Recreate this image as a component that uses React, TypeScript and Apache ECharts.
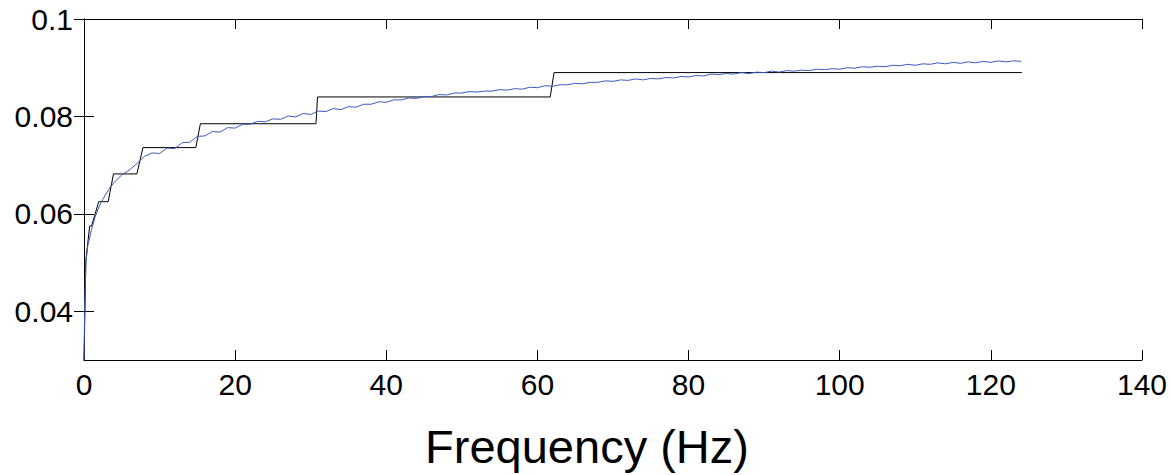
import React, { useEffect, useRef } from "react";
import * as echarts from "echarts";

// Black octave-band staircase: [Hz, value]
const stepHz = [0, 0.25, 0.75, 1.0, 1.95, 3.2, 3.9, 7.0, 7.8, 14.8, 15.4, 30.7, 30.9, 61.7, 62.2, 124.1];
const stepValues = [0.03, 0.0505, 0.0575, 0.0575, 0.0625, 0.0625, 0.0682, 0.0682, 0.0736, 0.0736, 0.0785, 0.0785, 0.084, 0.084, 0.089, 0.089];

// Blue measured curve
const blueHz = [
  0, 0.1, 0.25, 0.5, 1, 1.5, 2, 2.5, 3, 3.5, 4, 5, 6, 7,
  8, 9, 10, 11, 12, 13, 14, 15, 16, 17, 18, 19, 20, 21, 22, 23, 24, 25, 26, 27, 28, 29, 30,
  31, 32, 33, 34, 35, 36, 37, 38, 39, 40, 41, 42, 43, 44, 45, 46, 47, 48, 49, 50,
  51, 52, 53, 54, 55, 56, 57, 58, 59, 60, 61, 62, 63, 64, 65, 66, 67, 68, 69, 70,
  71, 72, 73, 74, 75, 76, 77, 78, 79, 80, 81, 82, 83, 84, 85, 86, 87, 88, 89, 90,
  91, 92, 93, 94, 95, 96, 97, 98, 99, 100, 101, 102, 103, 104, 105, 106, 107, 108, 109, 110,
  111, 112, 113, 114, 115, 116, 117, 118, 119, 120, 121, 122, 123, 124,
];
const blueValues = [
  0.03, 0.042, 0.05, 0.0535, 0.0568, 0.0595, 0.0615, 0.063, 0.0643, 0.0655, 0.0665, 0.068, 0.069, 0.0703,
  0.0718, 0.0725, 0.0724, 0.0735, 0.0734, 0.0746, 0.0747, 0.0759, 0.076, 0.0769, 0.0768, 0.0777, 0.0776, 0.0784, 0.0784, 0.079, 0.0789, 0.0795, 0.0794, 0.0801, 0.0799, 0.0806, 0.0804,
  0.0811, 0.081, 0.0816, 0.0814, 0.082, 0.0819, 0.0825, 0.0825, 0.083, 0.0829, 0.0834, 0.0834, 0.0838, 0.0837, 0.0841, 0.0841, 0.0845, 0.0844, 0.0848, 0.0848,
  0.0851, 0.085, 0.0852, 0.0852, 0.0855, 0.0854, 0.0857, 0.0856, 0.086, 0.0859, 0.0863, 0.0862, 0.0865, 0.0865, 0.0868, 0.0867, 0.087, 0.087, 0.0873, 0.0872,
  0.0875, 0.0874, 0.0877, 0.0875, 0.0878, 0.0877, 0.088, 0.0879, 0.0882, 0.0881, 0.0884, 0.0883, 0.0887, 0.0886, 0.0888, 0.0887, 0.089, 0.0888, 0.0891, 0.089,
  0.0893, 0.0891, 0.0894, 0.0893, 0.0895, 0.0894, 0.0897, 0.0896, 0.0898, 0.0897, 0.09, 0.0899, 0.0902, 0.0901, 0.0903, 0.0902, 0.0905, 0.0904, 0.0907, 0.0905,
  0.0908, 0.0907, 0.091, 0.0908, 0.0911, 0.0909, 0.0912, 0.091, 0.0913, 0.0911, 0.0914, 0.0912, 0.0914, 0.0913,
];

const xTicks = [0, 20, 40, 60, 80, 100, 120, 140];
const yTicks = [0.04, 0.06, 0.08, 0.1];
const xTitle = "Frequency (Hz)";

const FONT = "'Liberation Sans', Arial, Helvetica, sans-serif";

export default function App() {
  const ref = useRef<HTMLDivElement>(null);
  useEffect(() => {
    if (!ref.current) return;
    const chart = echarts.init(ref.current, null, { renderer: "svg" });
    const axisLine = { show: true, lineStyle: { color: "#000", width: 1 } };
    const tick = { show: true, inside: true, length: 10, lineStyle: { color: "#000", width: 1 } };
    chart.setOption({
      animation: false,
      backgroundColor: "#fff",
      grid: { left: 84, right: 28, top: 19, bottom: 115, containLabel: false },
      xAxis: [
        {
          type: "value",
          min: xTicks[0],
          max: xTicks[xTicks.length - 1],
          interval: 20,
          axisLine,
          axisTick: tick,
          splitLine: { show: false },
          axisLabel: { color: "#000", fontFamily: FONT, fontSize: 30, margin: 9 },
        },
        {
          type: "value",
          position: "top",
          min: xTicks[0],
          max: xTicks[xTicks.length - 1],
          interval: 20,
          axisLine,
          axisTick: tick,
          splitLine: { show: false },
          axisLabel: { show: false },
        },
      ],
      yAxis: [
        {
          type: "value",
          min: 0.03,
          max: 0.1,
          axisLine,
          axisTick: { ...tick, customValues: yTicks },
          splitLine: { show: false },
          axisLabel: { color: "#000", fontFamily: FONT, fontSize: 30, margin: 11, customValues: yTicks },
        },
        {
          type: "value",
          position: "right",
          min: 0.03,
          max: 0.1,
          axisLine,
          axisTick: { ...tick, customValues: yTicks },
          splitLine: { show: false },
          axisLabel: { show: false },
        },
      ],
      graphic: [
        {
          type: "text",
          x: 587,
          y: 446,
          style: {
            text: xTitle,
            fontFamily: FONT,
            fontSize: 47,
            fill: "#000",
            align: "center",
            verticalAlign: "middle",
          },
        },
      ],
      series: [
        {
          type: "line",
          name: "band",
          data: stepHz.map((x, i) => [x, stepValues[i]]),
          showSymbol: false,
          symbol: "none",
          lineStyle: { color: "#000", width: 1 },
          z: 2,
        },
        {
          type: "line",
          name: "measured",
          data: blueHz.map((x, i) => [x, blueValues[i]]),
          showSymbol: false,
          symbol: "none",
          lineStyle: { color: "#3a5bbf", width: 1 },
          z: 3,
        },
      ],
    });
    return () => chart.dispose();
  }, []);
  return <div ref={ref} style={{ width: 1170, height: 475, position: "absolute", left: 0, top: 0 }} />;
}
